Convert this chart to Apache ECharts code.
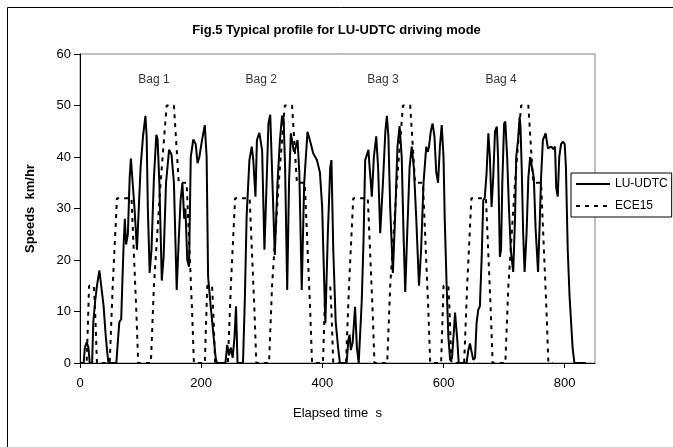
<!DOCTYPE html>
<html>
<head>
<meta charset="utf-8">
<script src="https://cdn.jsdelivr.net/npm/echarts@6/dist/echarts.min.js"></script>
<style>
html,body{margin:0;padding:0;background:#fff;}
#chart{width:673px;height:447px;}
</style>
</head>
<body>
<div id="chart"></div>
<script>
// ---- Data ----
const chartTitle = 'Fig.5 Typical profile for LU-UDTC driving mode';
const xTicks = [0, 200, 400, 600, 800];
const yTicks = [0, 10, 20, 30, 40, 50, 60];
const bagLabels = ['Bag 1', 'Bag 2', 'Bag 3', 'Bag 4'];
const bagLabelTimes = [122, 299, 500, 695];
const bagLabelSpeed = 55;

// LU-UDTC measured profile (elapsed time s, speed km/hr)
const ludtcTime = [
  0, 6, 8, 11, 14, 16, 20, 22, 25, 28, 32, 34, 36, 39, 42, 45, 47,
  60, 63, 65, 68, 70, 72, 74, 76, 79, 82, 84, 87, 90, 94,
  100, 104, 108, 110, 112, 115, 118, 122, 126, 128, 131, 135, 138, 142, 147, 151, 155, 159.6,
  163, 166, 169, 172, 174, 177, 180, 182.8, 187, 191, 194, 197, 201, 206, 209, 211.4, 215.8, 220, 224, 226,
  240, 243, 246, 249, 252, 255, 257.5, 260, 269, 272, 275, 279.6, 283.5, 286, 289.6, 292, 296, 300.6,
  304.4, 308, 311, 314, 317, 321.5, 326, 330, 333.5, 336, 338.5, 342, 345, 348, 353, 355, 359, 362, 366,
  370, 375.5, 380, 385, 391, 396, 399.7, 402, 405, 409, 413, 415, 418, 422, 426, 429,
  440, 443, 445, 447, 450, 454, 457, 460, 462, 465, 468, 470.7, 476, 478, 481.7, 485, 488.9, 492, 495.5,
  500, 504, 506.5, 509, 512, 516.4, 520, 524, 527.5, 531, 534, 536.8, 540, 544, 547.5, 551, 555, 559.5,
  563, 567, 571.5, 574, 576, 579, 582, 585, 588, 591, 594, 597, 600, 602, 605, 608, 611, 614, 617, 619, 621.5, 623, 625,
  638, 641, 643.6, 646, 649, 652, 654.5, 657.3, 660, 663, 665.6, 668, 671, 674, 676.5, 679.3, 682, 685, 688, 690,
  693, 695, 697, 700, 702, 705, 708, 711, 715, 718, 720, 723, 725.6, 727, 729, 731.5, 733.8, 737, 740, 743,
  746, 749, 752, 756, 759, 761, 764, 768.5, 772.3, 775, 778, 781, 784, 786, 788.5, 791, 794, 797, 800, 802,
  805, 808, 810.5, 813, 815, 816, 835
];
const ludtcSpeed = [
  0, 0, 3, 4, 3, 0, 0, 8, 12, 15, 18, 16, 14, 11, 6, 2, 0,
  0, 5, 8, 8.5, 16, 23, 28, 23, 25, 36, 39.7, 39.6, 30, 22,
  38, 44, 48, 44, 30, 17.5, 22, 36, 44.3, 43.5, 35, 16, 20.6, 35, 41.4, 40.5, 35, 14.2,
  24, 31.6, 35, 28, 30, 20, 18.7, 40, 43.4, 42.5, 38.8, 40, 43, 46.2, 40, 16.8, 10.9, 5.8, 0.9, 0,
  0, 3.5, 1.5, 3, 1, 5, 11, 0, 0, 12, 28.4, 39.4, 42, 39.4, 32.3, 43.3, 44.7, 41.3,
  22, 34.9, 46.5, 48.2, 48, 21, 35, 43.3, 48, 47.6, 38, 14.2, 35, 44.6, 41, 41.4, 43.3, 37, 14.2,
  34.9, 44.9, 43, 40.7, 39.4, 37, 30.3, 20, 7.7, 25, 38, 39.4, 22, 8, 3, 0,
  0, 4.5, 5.5, 2.5, 4, 10.9, 3, 0, 0, 12, 24, 39.4, 41.4, 38, 32.3, 40, 44, 38, 25.2,
  35, 45, 48, 44, 30, 17.5, 28, 42, 46, 40, 25, 13.8, 25, 38, 42, 38, 28, 15,
  22, 35, 42, 41, 42, 45, 46.5, 44, 37, 35, 42, 46.2, 40, 28, 15.5, 5, 0.5, 1, 6, 9.8, 9.8, 4, 0,
  0, 2.5, 3.8, 3.8, 0.6, 1, 7.7, 10.3, 11, 20.6, 31.6, 32, 36.8, 44.6, 40, 30.3, 36, 45, 45.9, 40,
  20.6, 22, 35, 46.5, 46.9, 40, 30, 22, 17.7, 28, 40, 43.3, 47.8, 46, 38, 25, 17.7, 25, 36, 40,
  40, 36, 26, 17.7, 28, 36, 43.3, 44.6, 41.7, 42, 42, 41.5, 42, 34, 32.3, 40, 42.5, 43, 42.5, 38,
  22, 13, 8, 3, 1, 0, 0
];

// ECE15 reference cycle, four repetitions (elapsed time s, speed km/hr)
const eceTime = [
  0, 11, 15, 23, 25, 28, 49, 54, 56, 61, 85, 93, 96, 117, 122, 124, 133, 135, 143, 155, 163, 176, 178, 185, 188, 195,
  206, 210, 218, 220, 223, 244, 249, 251, 256, 280, 288, 291, 312, 317, 319, 328, 330, 338, 350, 358, 371, 373, 380, 383, 390,
  401, 405, 413, 415, 418, 439, 444, 446, 451, 475, 483, 486, 507, 512, 514, 523, 525, 533, 545, 553, 566, 568, 575, 578, 585,
  596, 600, 608, 610, 613, 634, 639, 641, 646, 670, 678, 681, 702, 707, 709, 718, 720, 728, 740, 748, 761, 763, 770, 773, 780
];
const eceSpeed = [
  0, 0, 15, 15, 10, 0, 0, 15, 15, 32, 32, 10, 0, 0, 15, 15, 35, 35, 50, 50, 35, 35, 35, 10, 0, 0,
  0, 15, 15, 10, 0, 0, 15, 15, 32, 32, 10, 0, 0, 15, 15, 35, 35, 50, 50, 35, 35, 35, 10, 0, 0,
  0, 15, 15, 10, 0, 0, 15, 15, 32, 32, 10, 0, 0, 15, 15, 35, 35, 50, 50, 35, 35, 35, 10, 0, 0,
  0, 15, 15, 10, 0, 0, 15, 15, 32, 32, 10, 0, 0, 15, 15, 35, 35, 50, 50, 35, 35, 35, 10, 0, 0
];

// ---- Build chart ----
const FONT = 'Liberation Sans, Arial, sans-serif';
const lutData = ludtcTime.map((t, i) => [t, ludtcSpeed[i]]);
const eceData = eceTime.map((t, i) => [t, eceSpeed[i]]);
const bagData = bagLabelTimes.map((t, i) => ({ value: [t, bagLabelSpeed], name: bagLabels[i] }));

const chart = echarts.init(document.getElementById('chart'), null, { renderer: 'canvas' });
chart.setOption({
  animation: false,
  backgroundColor: '#ffffff',
  title: {
    text: chartTitle,
    left: 'center',
    top: 19,
    textStyle: { fontFamily: FONT, fontSize: 13, fontWeight: 'bold', color: '#000' }
  },
  grid: {
    left: 80, right: 78, top: 54, bottom: 84,
    show: true, borderColor: '#808080', borderWidth: 1, backgroundColor: 'transparent'
  },
  legend: {
    orient: 'vertical',
    left: 571, top: 173,
    padding: [5, 4, 5, 4],
    itemWidth: 34, itemHeight: 12, itemGap: 10,
    borderColor: '#000', borderWidth: 1, backgroundColor: '#fff',
    itemStyle: { opacity: 0 },
    textStyle: { fontFamily: FONT, fontSize: 12, color: '#000' },
    data: ['LU-UDTC', 'ECE15']
  },
  xAxis: {
    type: 'value', min: 0, max: 850,
    name: 'Elapsed time  s', nameLocation: 'middle', nameGap: 44,
    nameTextStyle: { fontFamily: FONT, fontSize: 13, color: '#000' },
    axisLine: { show: true, lineStyle: { color: '#000', width: 1 } },
    axisTick: { show: true, inside: false, length: 5, lineStyle: { color: '#000' }, customValues: xTicks },
    axisLabel: { fontFamily: FONT, fontSize: 13, color: '#000', margin: 14, customValues: xTicks },
    splitLine: { show: false }
  },
  yAxis: {
    type: 'value', min: 0, max: 60, interval: 10,
    name: 'Speeds  km/hr', nameLocation: 'middle', nameGap: 43,
    nameTextStyle: { fontFamily: FONT, fontSize: 13, fontWeight: 'bold', color: '#000' },
    axisLine: { show: true, lineStyle: { color: '#000', width: 1 } },
    axisTick: { show: true, inside: false, length: 6, lineStyle: { color: '#000' }, customValues: yTicks },
    axisLabel: { fontFamily: FONT, fontSize: 13, color: '#000', margin: 9, customValues: yTicks },
    splitLine: { show: false }
  },
  series: [
    {
      name: 'LU-UDTC', type: 'line', data: lutData,
      symbol: 'none', smooth: false, z: 3,
      lineStyle: { color: '#000', width: 2, type: 'solid' },
      itemStyle: { color: '#000' }
    },
    {
      name: 'ECE15', type: 'line', data: eceData,
      symbol: 'none', smooth: false, z: 4,
      lineStyle: { color: '#000', width: 2, type: [4, 5] },
      itemStyle: { color: '#000' }
    },
    {
      name: 'bags', type: 'scatter', data: bagData,
      symbolSize: 0, silent: true, z: 5,
      label: {
        show: true, position: 'inside', formatter: p => p.name,
        fontFamily: FONT, fontSize: 12, color: '#000'
      }
    }
  ],
  graphic: [
    {
      type: 'rect', silent: true, z: 100,
      shape: { x: 7.5, y: 7.5, width: 720, height: 520 },
      style: { fill: 'none', stroke: '#000', lineWidth: 1 }
    }
  ]
});
</script>
</body>
</html>
